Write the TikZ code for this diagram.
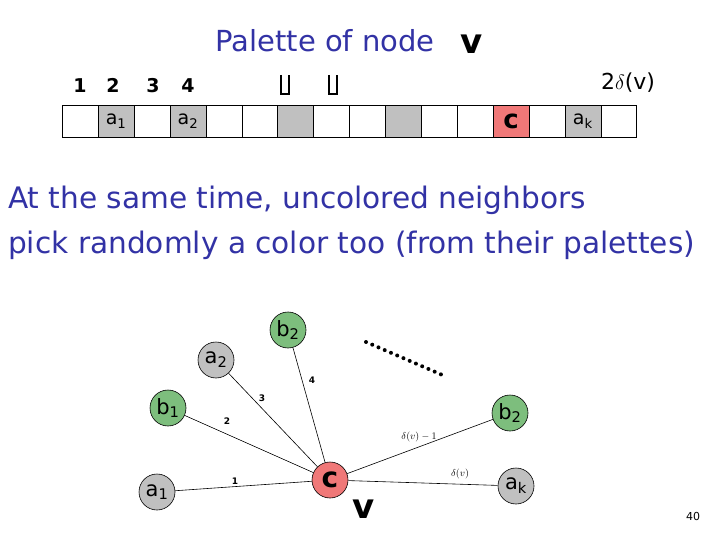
\documentclass[tikz,border=0pt]{standalone}
\usepackage{fontspec}
\setmainfont{DejaVu Sans}
\definecolor{tblue}{RGB}{50,50,165}
\definecolor{cgray}{RGB}{192,192,192}
\definecolor{cred}{RGB}{240,120,120}
\definecolor{cgreen}{RGB}{125,190,125}
\tikzset{
  cell/.style={draw=black, line width=0.6pt, minimum width=35.9pt, minimum height=32pt, inner sep=0pt, anchor=west},
  vert/.style={circle, draw=black, line width=0.6pt, minimum size=36pt, inner sep=0pt, font=\fontsize{21}{21}\selectfont},
  edge/.style={draw=black, line width=0.6pt},
  elab/.style={font=\fontsize{9}{9}\selectfont\bfseries, inner sep=0pt},
  mlab/.style={font=\fontsize{10}{10}\selectfont, inner sep=0pt},
  num/.style={font=\fontsize{19}{19}\selectfont\bfseries, anchor=base, inner sep=0pt},
  brk/.style={draw=black, line width=2pt},
  bigv/.style={font=\fontsize{34}{34}\selectfont\bfseries, anchor=base, inner sep=0pt},
}
\begin{document}
\begin{tikzpicture}[x=1pt,y=-1pt]
\useasboundingbox (0,0) rectangle (720,540);
% title
\node[text=tblue, font=\fontsize{29}{29}\selectfont, anchor=base] (title) at (325,52) {Palette of node};
\node[bigv] (vtop) at (472,54) {v};
% numbers
\node[num] (n1) at (80,93) {1};
\node[num] (n2) at (113,93) {2};
\node[num] (n3) at (153,93) {3};
\node[num] (n4) at (188,93) {4};
\node[font=\fontsize{22}{22}\selectfont, anchor=base] (nd) at (628,90) {2$\delta$(v)};
\draw[brk] (281,75) -- (281,94) -- (289,94) -- (289,75);
\draw[brk] (329,75) -- (329,94) -- (337,94) -- (337,75);
% palette
\foreach \i/\f/\t in {0/white/,1/cgray/a\textsubscript{1},2/white/,3/cgray/a\textsubscript{2},4/white/,5/white/,6/cgray/,7/white/,8/white/,9/cgray/,10/white/,11/white/,12/cred/{\fontsize{26}{26}\selectfont\bfseries c},13/white/,14/cgray/a\textsubscript{k},15/white/}
  \node[cell, fill=\f, font=\fontsize{19}{19}\selectfont] (p\i) at ({62+35.9*\i},121) {\t};
% text
\node[text=tblue, font=\fontsize{29.6}{29.6}\selectfont, anchor=base west, inner sep=0pt] (l1) at (8,208) {At the same time, uncolored neighbors};
\node[text=tblue, font=\fontsize{29.6}{29.6}\selectfont, anchor=base west, inner sep=0pt] (l2) at (8,254) {pick randomly a color too (from their palettes)};
% graph
\node[vert, fill=cred, font=\fontsize{28}{28}\selectfont\bfseries] (c) at (330,480) {c};
\node[vert, fill=cgray] (a1) at (157,492) {a\textsubscript{1}};
\node[vert, fill=cgreen] (b1) at (168,408) {b\textsubscript{1}};
\node[vert, fill=cgray] (a2) at (216,360) {a\textsubscript{2}};
\node[vert, fill=cgreen] (b2) at (288,330) {b\textsubscript{2}};
\node[vert, fill=cgreen] (b3) at (510,413) {b\textsubscript{2}};
\node[vert, fill=cgray] (ak) at (516,486) {a\textsubscript{k}};
\draw[edge] (c) -- (a1);
\draw[edge] (c) -- (b1);
\draw[edge] (c) -- (a2);
\draw[edge] (c) -- (b2);
\draw[edge] (c) -- (b3);
\draw[edge] (c) -- (ak);
\node[elab] (e1) at (235,481) {1};
\node[elab] (e2) at (227,421) {2};
\node[elab] (e3) at (262,398) {3};
\node[elab] (e4) at (312,380) {4};
\node[mlab] (e5) at (419,437) {$\delta(v)-1$};
\node[mlab] (e6) at (460,474) {$\delta(v)$};
\node[bigv] (vbot) at (364,518) {v};
\coordinate (d1) at (366,342);
\coordinate (d2) at (447,377);
\draw[line width=4pt, line cap=round, dash pattern=on 0pt off 6.8pt] (d1) -- (d2);
\node[font=\fontsize{11}{11}\selectfont, anchor=base] (pg) at (693,520) {40};
\end{tikzpicture}
\end{document}
